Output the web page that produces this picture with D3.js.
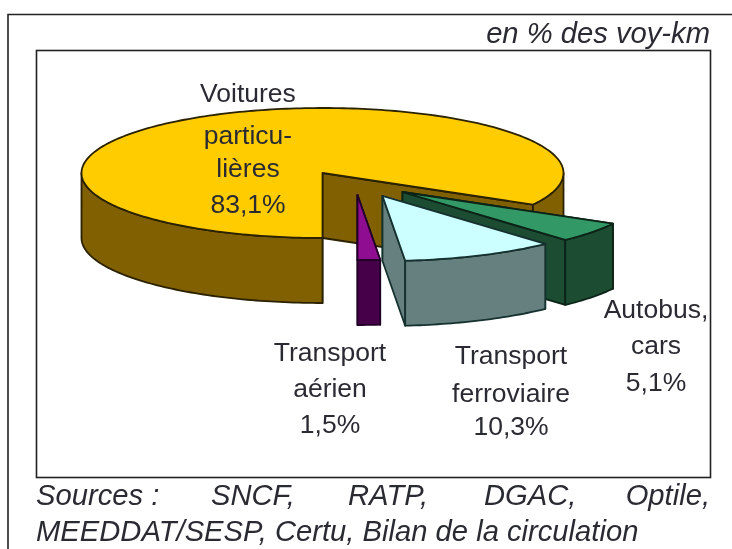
<!DOCTYPE html>
<html><head><meta charset="utf-8">
<script src="https://cdn.jsdelivr.net/npm/d3@7/dist/d3.min.js"></script>
<style>html,body{margin:0;padding:0;background:#fff}svg{display:block}text{font-family:"Liberation Sans",Arial,sans-serif;fill:#2b2b33}</style>
</head><body><svg width="732" height="549"></svg>
<script>
const categories = ["Voitures particulières", "Autobus, cars", "Transport ferroviaire", "Transport aérien"];
const values = [83.1, 5.1, 10.3, 1.5];
const valueLabels = ["83,1%", "5,1%", "10,3%", "1,5%"];
const labelLines = [["Voitures", "particu-", "lières"], ["Autobus,", "cars"], ["Transport", "ferroviaire"], ["Transport", "aérien"]];
const unitNote = "en % des voy-km";
const sourceLines = [["Sources :", "SNCF,", "RATP,", "DGAC,", "Optile,"], ["MEEDDAT/SESP, Certu, Bilan de la circulation"]];

const topColors = ["#ffcc00", "#339966", "#ccffff", "#8f0a90"];
const sideColors = ["#806000", "#1a4d33", "#668080", "#45064a"];
const edgeColors = ["#2a2000", "#0a2417", "#16302f", "#220228"];
// slice offsets (explosion), label anchors
const explode = [[0, 1], [80, 20], [60, 24], [35, 23]];
const labelPos = [[248, 102, [0, 42, 75, 111]], [656, 318, [0, 36, 73]], [511, 364, [0, 38, 71]], [330, 361, [0, 36, 72]]];
const drawOrder = [0, 1, 3, 2];
const cx = 322.5, cy = 172, rx = 241, ry = 65, depth = 65;

const svg = d3.select("svg");
const defs = svg.append("defs");
defs.append("filter").attr("id", "soft").append("feGaussianBlur").attr("stdDeviation", 0.55);
const root = svg.append("g").attr("filter", "url(#soft)");

// frames
const frame = root.append("g").attr("fill", "none").attr("stroke", "#222");
frame.append("path").attr("d", d3.line()([[8, 549], [8, 14.5], [732, 14.5]])).attr("stroke-width", 1.6);
frame.append("rect").attr("x", 36.5).attr("y", 50.5).attr("width", 674).attr("height", 427).attr("stroke-width", 1.6);

// pie
const pie = d3.pie().value(d => d).sort(null).startAngle(Math.PI).endAngle(3 * Math.PI);
const arcs = pie(values);
const xS = d3.scaleLinear().domain([-1, 1]).range([-rx, rx]);
const yS = d3.scaleLinear().domain([-1, 1]).range([ry, -ry]);
const pt = (a, dx, dy, z = 0) => [cx + dx + xS(Math.sin(a)), cy + dy + yS(Math.cos(a)) + z];
const line = d3.line();

function arcPts(a0, a1, dx, dy, z) {
  const n = Math.max(2, Math.ceil(Math.abs(a1 - a0) / 0.02));
  return d3.range(n + 1).map(i => pt(a0 + (a1 - a0) * i / n, dx, dy, z));
}
// front-facing parts of the rim: where cos(a) < 0
function frontRanges(a0, a1) {
  const out = [];
  for (let k = 0; k < 3; k++) {
    const lo = Math.max(a0, Math.PI / 2 + 2 * Math.PI * k), hi = Math.min(a1, 1.5 * Math.PI + 2 * Math.PI * k);
    if (hi > lo) out.push([lo, hi]);
  }
  return out;
}

drawOrder.forEach(i => {
  const d = arcs[i], [dx, dy] = explode[i];
  const g = root.append("g").attr("stroke", edgeColors[i]).attr("stroke-width", 1.8).attr("stroke-linejoin", "round");
  const apex = [cx + dx, cy + dy];
  // cut walls
  [d.startAngle, d.endAngle].forEach(a => {
    const p = pt(a, dx, dy);
    g.append("path").attr("fill", sideColors[i])
      .attr("d", line([apex, p, [p[0], p[1] + depth], [apex[0], apex[1] + depth]]) + "Z");
  });
  // rim
  frontRanges(d.startAngle, d.endAngle).forEach(([lo, hi]) => {
    const upper = arcPts(lo, hi, dx, dy, 0), lower = arcPts(hi, lo, dx, dy, depth);
    g.append("path").attr("fill", sideColors[i]).attr("d", line(upper.concat(lower)) + "Z");
  });
  // top
  g.append("path").attr("fill", topColors[i])
    .attr("d", line([apex].concat(arcPts(d.startAngle, d.endAngle, dx, dy, 0))) + "Z");
});

// labels
const lblG = root.append("g").attr("text-anchor", "middle").attr("font-size", 26.5);
categories.forEach((c, i) => {
  const [x, y, offs] = labelPos[i];
  labelLines[i].concat([valueLabels[i]]).forEach((t, j) => {
    lblG.append("text").attr("x", x).attr("y", y + offs[j]).text(t);
  });
});

// note + sources
root.append("text").attr("x", 710).attr("y", 43).attr("text-anchor", "end").attr("font-size", 29.2).attr("font-style", "italic").text(unitNote);
const srcX = [36, 211, 348, 484, 710];
const srcG = root.append("g").attr("font-size", 29.2).attr("font-style", "italic");
sourceLines[0].forEach((t, i) => srcG.append("text").attr("x", srcX[i]).attr("y", 505).attr("text-anchor", i === 4 ? "end" : "start").text(t));
srcG.append("text").attr("x", 36).attr("y", 541).text(sourceLines[1][0]);
</script></body></html>
